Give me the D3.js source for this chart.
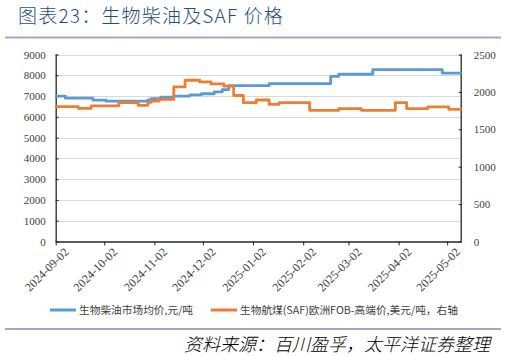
<!DOCTYPE html>
<html><head><meta charset="utf-8">
<script src="https://cdn.jsdelivr.net/npm/d3@7"></script>
<style>body{margin:0;background:#fff}svg{display:block}</style>
</head><body>
<script>
// ---- data ----
const xTickLabels = ["2024-09-02","2024-10-02","2024-11-02","2024-12-02","2025-01-02","2025-02-02","2025-03-02","2025-04-02","2025-05-02"];
const xEnd = "2025-05-11";
const leftTicks = [0,1000,2000,3000,4000,5000,6000,7000,8000,9000];
const rightTicks = [0,500,1000,1500,2000,2500];
// 生物柴油市场均价 (change dates / values, step series)
const dieselDates = ["2024-09-02","2024-09-08","2024-09-25","2024-10-03","2024-10-29","2024-10-31","2024-11-06","2024-11-14","2024-11-24","2024-12-01","2024-12-09","2024-12-14","2024-12-18","2025-01-12","2025-02-19","2025-02-24","2025-03-17","2025-04-29","2025-05-11"];
const dieselValues = [7000,6900,6800,6760,6820,6870,6950,7000,7060,7110,7200,7310,7500,7600,7950,8050,8270,8100,8100];
// 生物航煤(SAF)欧洲FOB-高端价 (right axis)
const safDates = ["2024-09-02","2024-09-16","2024-09-24","2024-10-11","2024-10-23","2024-10-29","2024-10-31","2024-11-05","2024-11-14","2024-11-21","2024-11-30","2024-12-07","2024-12-15","2024-12-21","2024-12-27","2025-01-04","2025-01-12","2025-01-18","2025-02-06","2025-02-24","2025-03-10","2025-03-31","2025-04-07","2025-04-20","2025-05-03","2025-05-11"];
const safValues = [1803,1780,1812,1856,1820,1860,1878,1900,2067,2156,2134,2107,2077,1952,1856,1892,1833,1856,1754,1776,1754,1856,1776,1799,1767,1767];
const seriesNames = ["生物柴油市场均价,元/吨","生物航煤(SAF)欧洲FOB-高端价,美元/吨，右轴"];
const colors = ["#5B9BD5","#ED7D31"];

const W=507,H=356;
const svg=d3.select("body").append("svg").attr("width",W).attr("height",H);
const parse=d3.utcParse("%Y-%m-%d");
const L=55.7,R=461.7,T=54.5,B=241.5;
const x=d3.scaleUtc().domain([parse(xTickLabels[0]),parse(xEnd)]).range([L,R]);
const yL=d3.scaleLinear().domain([0,9000]).range([B,T]);
const yR=d3.scaleLinear().domain([0,2500]).range([B,T]);

// title
svg.append("text").attr("x",18).attr("y",23).text("图表23：生物柴油及SAF 价格")
  .attr("font-family","Noto Sans CJK SC").attr("font-size",19).attr("letter-spacing",1.2).attr("font-weight",300).attr("fill","#1F4E79");
svg.append("line").attr("x1",5).attr("x2",501).attr("y1",37.5).attr("y2",37.5).attr("stroke","#A5A5C5").attr("stroke-width",2);

// grid
svg.append("g").selectAll("line").data(leftTicks.slice(1)).join("line")
  .attr("x1",L).attr("x2",R).attr("y1",d=>Math.round(yL(d))+0.5).attr("y2",d=>Math.round(yL(d))+0.5)
  .attr("stroke","#D9D9D9").attr("stroke-width",1);

const tickFont="Liberation Serif";
// left axis
const gl=svg.append("g").attr("transform",`translate(${L},0)`).call(d3.axisLeft(yL).tickValues(leftTicks).tickSize(-3).tickPadding(10).tickFormat(d3.format("d")));
// right axis
const gr=svg.append("g").attr("transform",`translate(${R},0)`).call(d3.axisRight(yR).tickValues(rightTicks).tickSize(-3).tickPadding(12).tickFormat(d3.format("d")));
// bottom axis
const gb=svg.append("g").attr("transform",`translate(0,${B})`).call(d3.axisBottom(x).tickValues(xTickLabels.map(parse)).tickSize(4).tickFormat(d3.utcFormat("%Y-%m-%d")));
[gl,gr,gb].forEach(g=>{
  g.selectAll(".domain").attr("stroke","#262626").attr("stroke-width",1.3);
  g.selectAll(".tick line").attr("stroke","#262626");
  g.selectAll("text").attr("font-family",tickFont).attr("font-size",11).attr("fill","#404040");
});
gb.selectAll("text").attr("font-size",12).attr("text-anchor","end").attr("transform","translate(4,2) rotate(-45)").attr("dy","0.5em").attr("dx","0");
gl.select(".domain").attr("d",`M0.5,${B}V${T}`);
gr.select(".domain").attr("d",`M-0.5,${B}V${T}`);
gb.select(".domain").attr("d",`M${L},0.5H${R}`);

// lines
const dies=dieselDates.map((d,i)=>({d:parse(d),v:dieselValues[i]}));
const saf=safDates.map((d,i)=>({d:parse(d),v:safValues[i]}));
svg.append("path").datum(dies).attr("fill","none").attr("stroke",colors[0]).attr("stroke-width",2.8).attr("stroke-linejoin","round")
  .attr("d",d3.line().x(p=>x(p.d)).y(p=>yL(p.v)).curve(d3.curveStepAfter));
svg.append("path").datum(saf).attr("fill","none").attr("stroke",colors[1]).attr("stroke-width",2.8).attr("stroke-linejoin","round")
  .attr("d",d3.line().x(p=>x(p.d)).y(p=>yR(p.v)).curve(d3.curveStepAfter));

// legend
const lx=[50,211];
seriesNames.forEach((n,i)=>{
  svg.append("line").attr("x1",lx[i]).attr("x2",lx[i]+26).attr("y1",310).attr("y2",310).attr("stroke",colors[i]).attr("stroke-width",3);
  svg.append("text").attr("x",lx[i]+29).attr("y",313.5).text(n).attr("font-family","Noto Sans CJK SC").attr("font-size",10.7).attr("fill","#404040");
});
svg.append("line").attr("x1",5).attr("x2",501).attr("y1",329).attr("y2",329).attr("stroke","#A5A5C5").attr("stroke-width",2);
svg.append("text").attr("x",490).attr("y",351).attr("text-anchor","end").text("资料来源：百川盈孚，太平洋证券整理")
  .attr("font-family","Noto Sans CJK SC").attr("font-size",18).attr("font-weight",300).attr("font-style","italic").attr("fill","#000");
</script>
</body></html>
